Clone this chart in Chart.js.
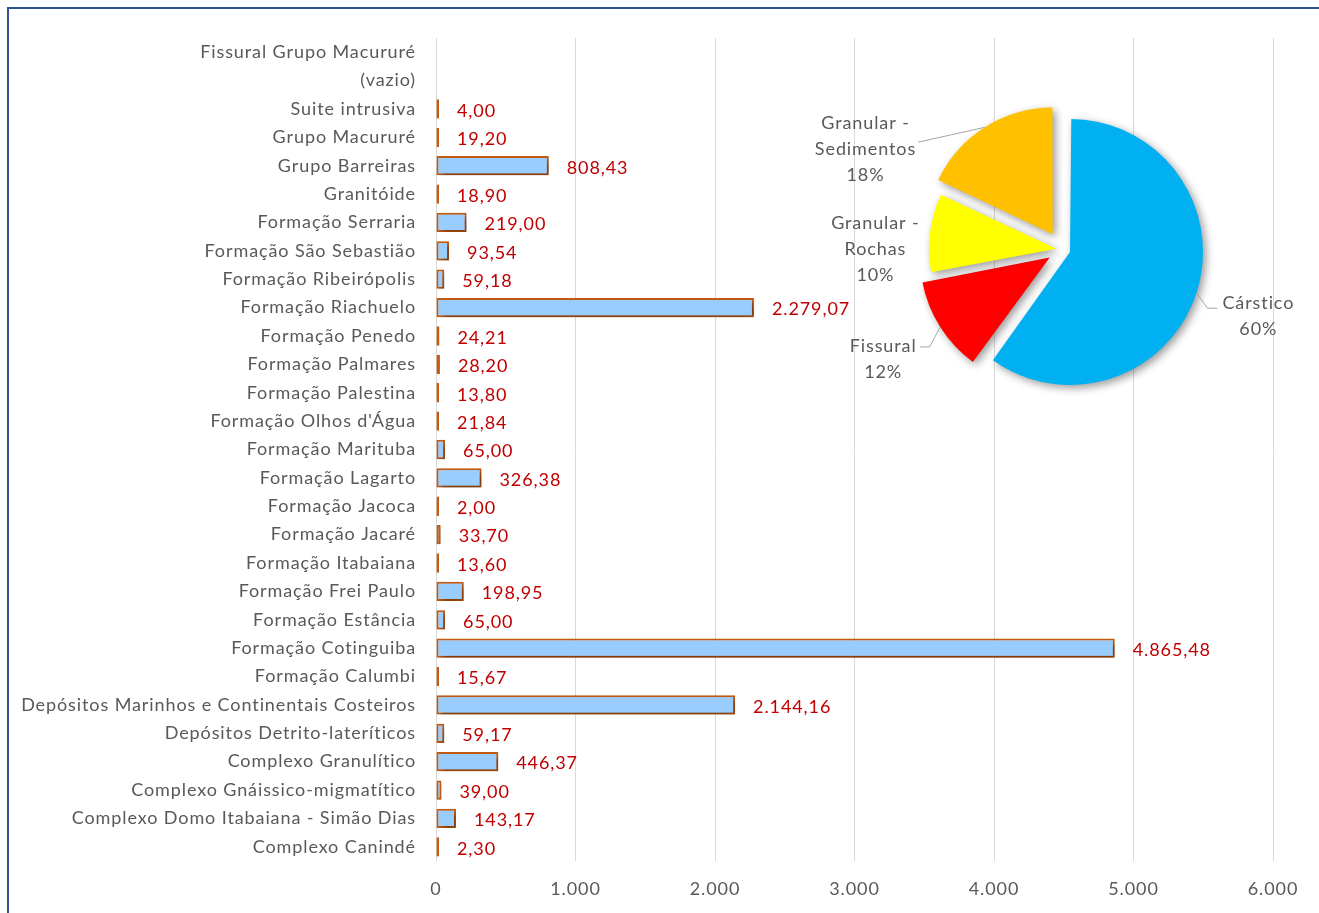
<!DOCTYPE html>
<html>
<head>
<meta charset="utf-8">
<script src="https://cdn.jsdelivr.net/npm/chart.js@4/dist/chart.umd.min.js"></script>
<style>
  body { margin: 0; background: #fff; overflow: hidden; }
  #wrap { position: relative; width: 1319px; height: 913px; }
  #frame { position: absolute; left: 7px; top: 7px; width: 1330px; height: 920px; border: 2px solid #2F5597; box-sizing: border-box; }
  #bars { position: absolute; left: 0; top: 0; }
  #pie { position: absolute; left: 800px; top: 70px; }
</style>
</head>
<body>
<div id="wrap">
  <div id="frame"></div>
  <canvas id="bars" width="1319" height="913"></canvas>
  <canvas id="pie" width="510" height="350"></canvas>
</div>
<script>
// bar chart data (area per formation)
const formations = [
  "Fissural Grupo Macururé", "(vazio)", "Suite intrusiva", "Grupo Macururé", "Grupo Barreiras",
  "Granitóide", "Formação Serraria", "Formação São Sebastião", "Formação Ribeirópolis",
  "Formação Riachuelo", "Formação Penedo", "Formação Palmares", "Formação Palestina",
  "Formação Olhos d'Água", "Formação Marituba", "Formação Lagarto", "Formação Jacoca",
  "Formação Jacaré", "Formação Itabaiana", "Formação Frei Paulo", "Formação Estância",
  "Formação Cotinguiba", "Formação Calumbi", "Depósitos Marinhos e Continentais Costeiros",
  "Depósitos Detrito-lateríticos", "Complexo Granulítico", "Complexo Gnáissico-migmatítico",
  "Complexo Domo Itabaiana - Simão Dias", "Complexo Canindé"
];
const areas = [
  null, null, 4.00, 19.20, 808.43,
  18.90, 219.00, 93.54, 59.18,
  2279.07, 24.21, 28.20, 13.80,
  21.84, 65.00, 326.38, 2.00,
  33.70, 13.60, 198.95, 65.00,
  4865.48, 15.67, 2144.16,
  59.17, 446.37, 39.00,
  143.17, 2.30
];
const xTicks = [0, 1000, 2000, 3000, 4000, 5000, 6000];

// pie data (aquifer type share, %)
const aquiferTypes = ["Cárstico", "Fissural", "Granular - Rochas", "Granular - Sedimentos"];
const aquiferShare = [60, 12, 10, 18];

const GREY = "#595959";
const FONT = "Lato, 'Open Sans', sans-serif";

function ptBR(v, dec) {
  const s = v.toFixed(dec);
  const parts = s.split(".");
  const int = parts[0].replace(/\B(?=(\d{3})+(?!\d))/g, ".");
  return parts[1] ? int + "," + parts[1] : int;
}

// slightly wider text, like the original
const spacing = {
  id: "spacing",
  beforeDraw(chart) { chart.ctx.letterSpacing = "0.9px"; }
};

const shadow = (color, blur, dx, dy) => ({
  id: "shadow",
  beforeDatasetsDraw(chart) {
    const c = chart.ctx;
    c.save();
    c.shadowColor = color;
    c.shadowBlur = blur;
    c.shadowOffsetX = dx;
    c.shadowOffsetY = dy;
  },
  afterDatasetsDraw(chart) {
    chart.ctx.restore();
  }
});

const valueLabels = {
  id: "valueLabels",
  afterDraw(chart) {
    const c = chart.ctx;
    const meta = chart.getDatasetMeta(0);
    const x0 = chart.scales.x.getPixelForValue(0);
    c.save();
    c.font = "18px " + FONT;
    c.fillStyle = "#C00000";
    c.textAlign = "left";
    c.textBaseline = "middle";
    meta.data.forEach((bar, i) => {
      const v = areas[i];
      if (v == null) return;
      const end = Math.max(bar.x, x0 + 2);
      c.fillText(ptBR(v, 2), end + 18, bar.y + 2);
    });
    c.restore();
  }
};

new Chart(document.getElementById("bars"), {
  type: "bar",
  data: {
    labels: formations,
    datasets: [{
      data: areas,
      backgroundColor: "#99CCFF",
      borderColor: "#C55A11",
      borderWidth: 2,
      borderSkipped: false,
      minBarLength: 3,
      barPercentage: 0.68,
      categoryPercentage: 1
    }]
  },
  options: {
    indexAxis: "y",
    responsive: false,
    animation: false,
    layout: { padding: { top: 38, right: 46, left: 0, bottom: 0 } },
    scales: {
      x: {
        min: 0,
        max: 6000,
        afterBuildTicks: s => { s.ticks = xTicks.map(v => ({ value: v })); },
        ticks: { color: GREY, font: { family: FONT, size: 18 }, padding: 17, callback: v => ptBR(v, 0) },
        grid: { color: "#D9D9D9", drawTicks: false },
        border: { display: false },
        afterFit: s => { s.height = 52; }
      },
      y: {
        grid: { display: false, drawTicks: false },
        border: { display: false },
        ticks: { color: GREY, font: { family: FONT, size: 18 }, padding: 20, autoSkip: false },
        afterFit: s => { s.width = 436; }
      }
    },
    plugins: { legend: { display: false }, tooltip: { enabled: false } }
  },
  plugins: [spacing, shadow("rgba(0,0,0,0.4)", 5, 3, 3), valueLabels]
});

// pie label placement: radial distance from centre, angle turn (deg), leader style
const pieLabelPlace = [
  { dist: 207, turn: 0.8, leader: "elbowRight" },
  { dist: 210, turn: 1, leader: "elbowLeft" },
  { dist: 187, turn: -7, leader: "none" },
  { dist: 221, turn: -30.6, leader: "straight" }
];

// chart.js v4 arc: shifted by offset/4, outer radius grows by shift * fix
function arcEdge(arc) {
  const s = (arc.options.offset || 0) / 4;
  const circ = arc.endAngle - arc.startAngle;
  const fix = 1 - Math.sin(Math.min(Math.PI, circ));
  return s + arc.outerRadius + s * fix;
}

const pieLabels = {
  id: "pieLabels",
  afterDraw(chart) {
    const c = chart.ctx;
    const meta = chart.getDatasetMeta(0);
    c.save();
    c.font = "18px " + FONT;
    c.fillStyle = GREY;
    c.strokeStyle = "#A6A6A6";
    c.lineWidth = 1;
    c.textAlign = "center";
    c.textBaseline = "middle";
    meta.data.forEach((arc, i) => {
      const p = pieLabelPlace[i];
      const mid = (arc.startAngle + arc.endAngle) / 2;
      const r = arcEdge(arc);
      const ex = arc.x + Math.cos(mid) * r;
      const ey = arc.y + Math.sin(mid) * r;
      const la = mid + p.turn * Math.PI / 180;
      const lx = arc.x + Math.cos(la) * p.dist;
      const ly = arc.y + Math.sin(la) * p.dist;
      const name = aquiferTypes[i];
      const lines = name.includes(" - ") ? [name.split(" - ")[0] + " -", name.split(" - ")[1]] : [name];
      lines.push(aquiferShare[i] + "%");
      const lh = 26;
      const top = ly - (lines.length - 1) * lh / 2;
      const w = Math.max(...lines.map(t => c.measureText(t).width));
      lines.forEach((t, k) => c.fillText(t, lx, top + k * lh));
      c.beginPath();
      if (p.leader === "elbowRight") {
        const sx = lx - c.measureText(lines[0]).width / 2 - 5;
        c.moveTo(ex + 1, ey + 1);
        c.lineTo(sx - 10, top + 5);
        c.lineTo(sx, top + 5);
        c.stroke();
      } else if (p.leader === "elbowLeft") {
        const sx = lx + c.measureText(lines[0]).width / 2 + 3;
        c.moveTo(sx, top + 1);
        c.lineTo(sx + 10, top + 1);
        c.lineTo(ex, ey);
        c.stroke();
      } else if (p.leader === "straight") {
        const sx = lx + w / 2 + 2;
        c.moveTo(sx, top + lh - 7);
        c.lineTo(ex, ey);
        c.stroke();
      }
    });
    c.restore();
  }
};

new Chart(document.getElementById("pie"), {
  type: "pie",
  data: {
    labels: aquiferTypes,
    datasets: [{
      data: aquiferShare,
      backgroundColor: ["#00B0F0", "#FF0000", "#FFFF00", "#FFC000"],
      borderWidth: 0,
      offset: [32, 60, 24, 72]
    }]
  },
  options: {
    responsive: false,
    animation: false,
    layout: { padding: { left: 101.4, top: 18.5, right: 86.6, bottom: 9.5 } },
    plugins: { legend: { display: false }, tooltip: { enabled: false } }
  },
  plugins: [spacing, shadow("rgba(0,0,0,0.4)", 8, 3, 3), pieLabels]
});
</script>
</body>
</html>
